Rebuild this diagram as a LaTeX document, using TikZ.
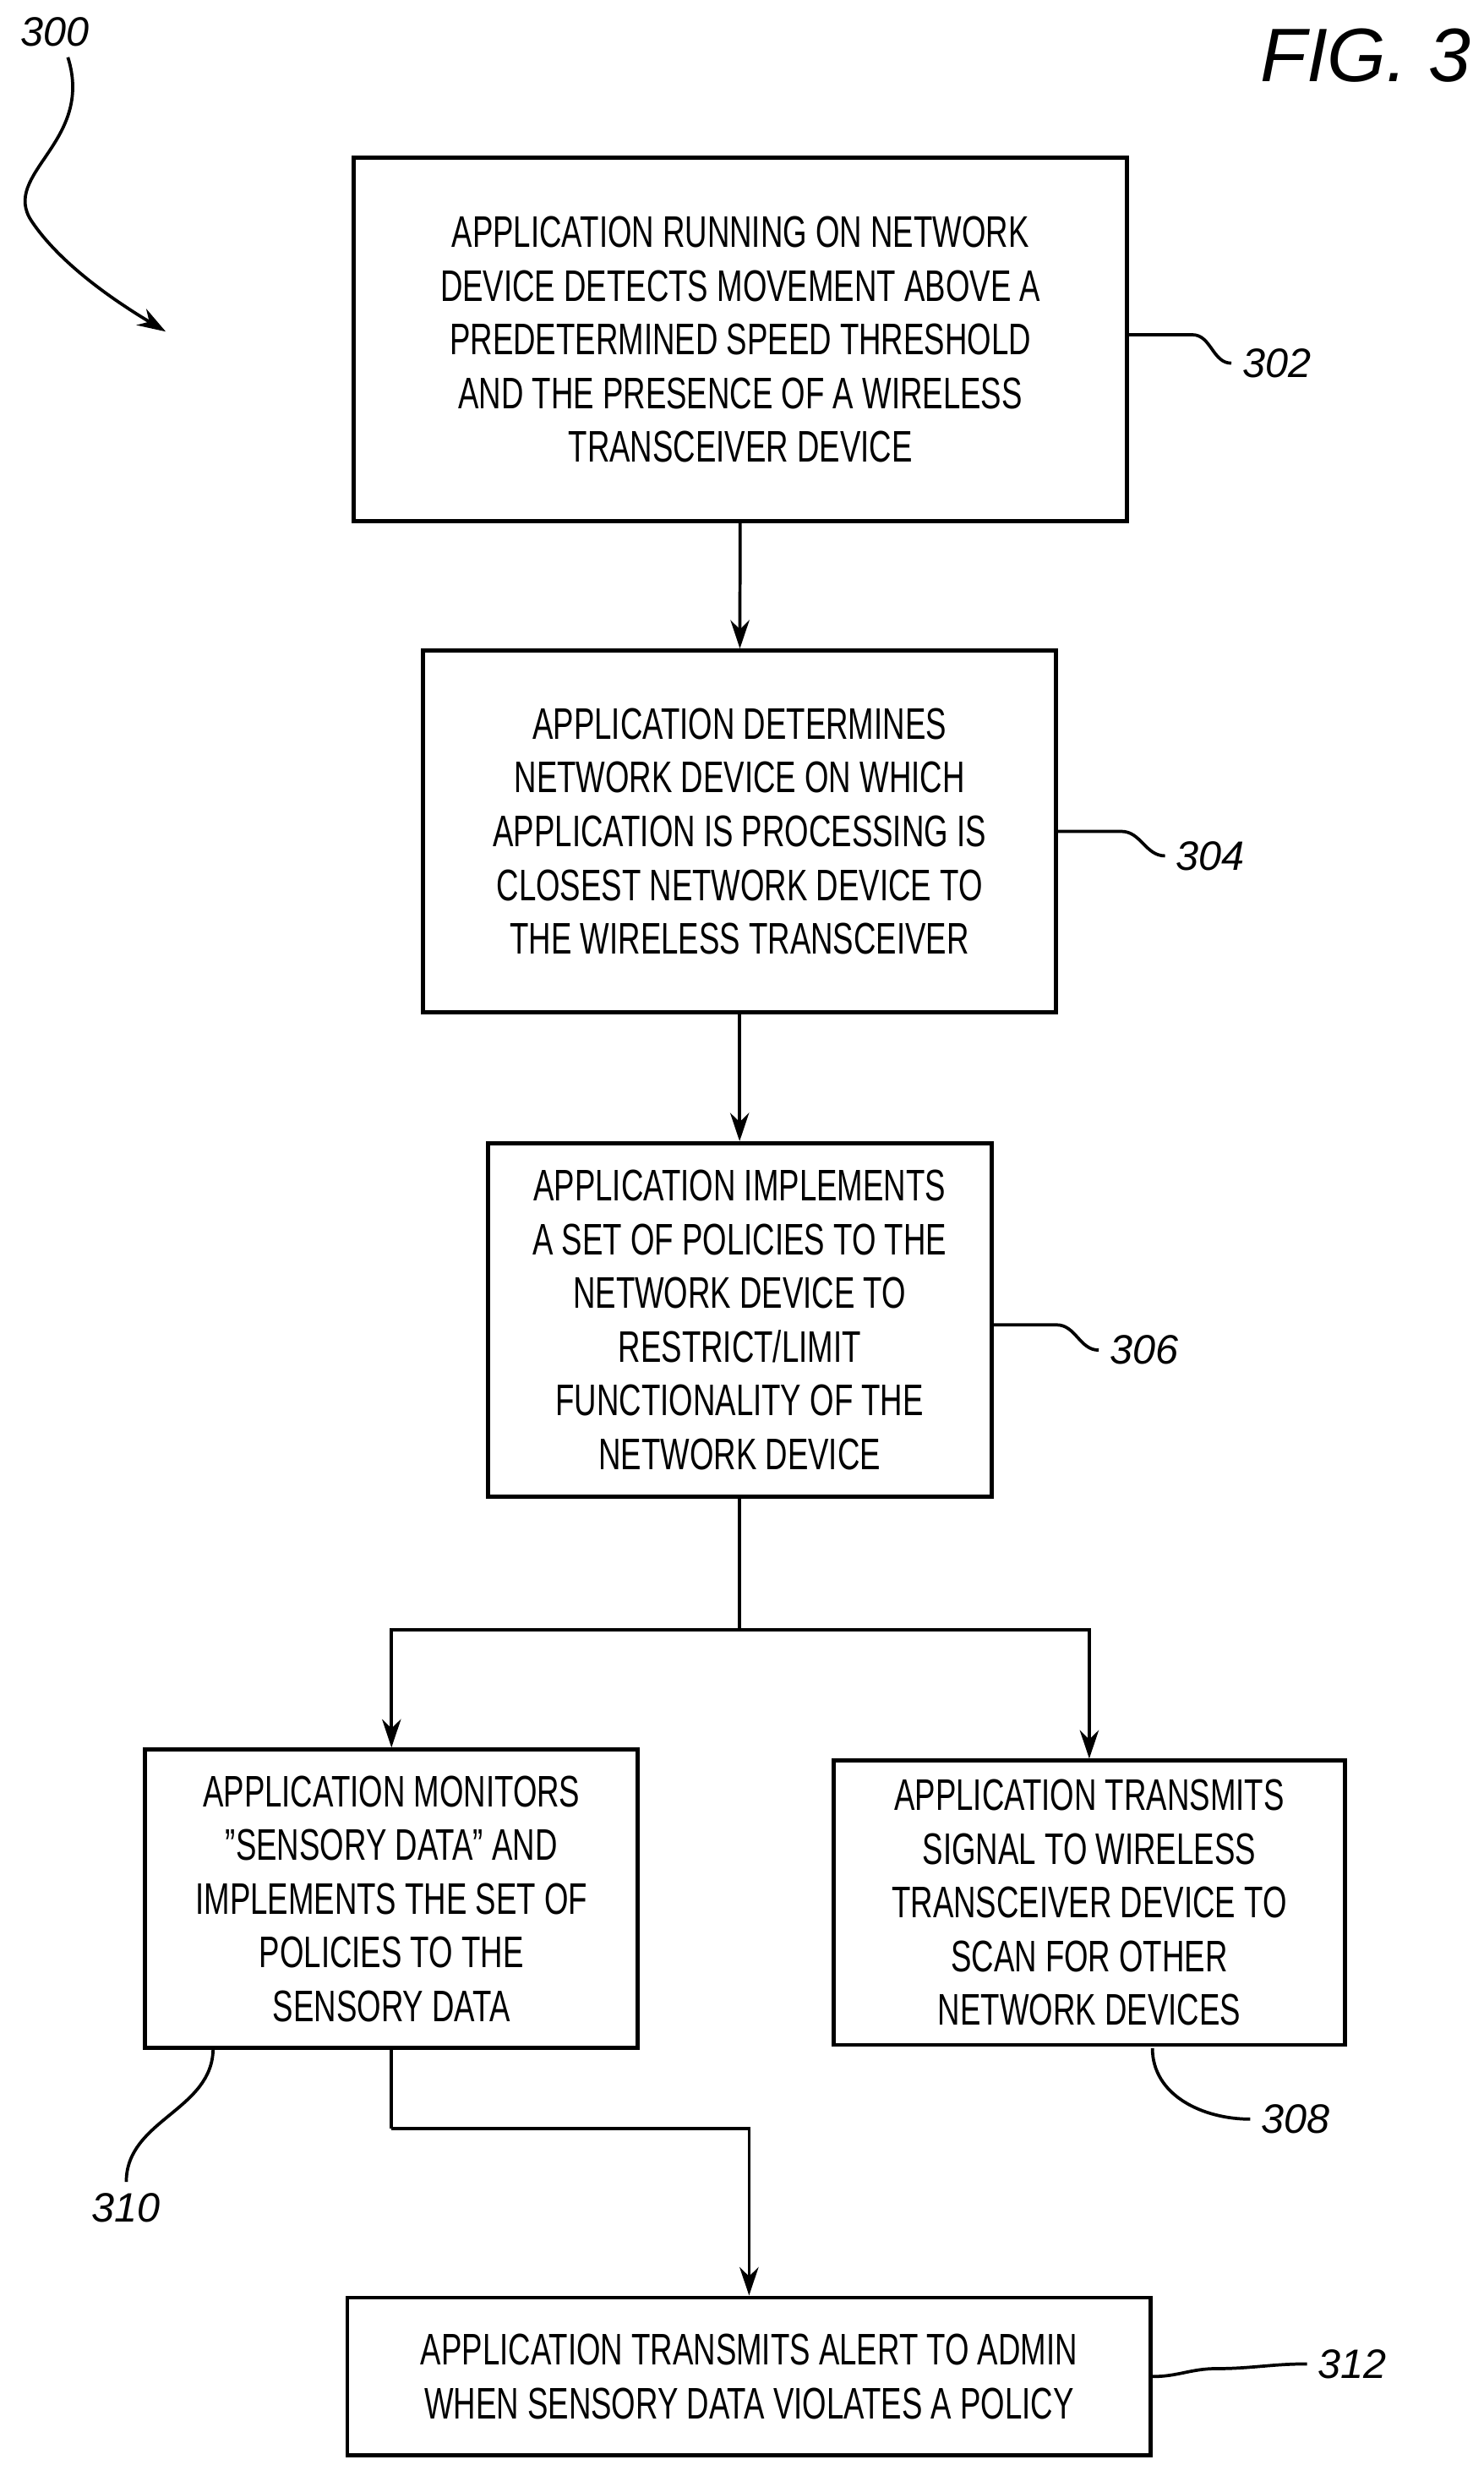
\documentclass[tikz,border=0pt]{standalone}
\usepackage{fontspec}
\setmainfont[FakeStretch=0.7]{Liberation Sans}
\newfontfamily\figfont{Liberation Sans}
\usetikzlibrary{arrows.meta}
\begin{document}
\begin{tikzpicture}[x=0.5pt,y=-0.5pt,font=\fontsize{14}{17}\selectfont,
  stepbox/.style={draw,line width=1.3pt,align=center,inner sep=0pt},
  flow/.style={line width=1pt,-{Stealth[length=9pt,width=6pt]}},
  lead/.style={line width=1pt},
  num/.style={font=\figfont\itshape\fontsize{13}{15}\selectfont}]
\useasboundingbox (0,0) rectangle (940,1568);

\node[stepbox,minimum width=245pt,minimum height=115pt] (s302) at (469,215) {APPLICATION RUNNING ON NETWORK\\DEVICE DETECTS MOVEMENT ABOVE A\\PREDETERMINED SPEED THRESHOLD\\AND THE PRESENCE OF A WIRELESS\\TRANSCEIVER DEVICE};
\node[stepbox,minimum width=200.5pt,minimum height=114.5pt] (s304) at (468.5,526.5) {APPLICATION DETERMINES\\NETWORK DEVICE ON WHICH\\APPLICATION IS PROCESSING IS\\CLOSEST NETWORK DEVICE TO\\THE WIRELESS TRANSCEIVER};
\node[stepbox,minimum width=159.5pt,minimum height=112pt] (s306) at (468.5,836) {APPLICATION IMPLEMENTS\\A SET OF POLICIES TO THE\\NETWORK DEVICE TO\\RESTRICT/LIMIT\\FUNCTIONALITY OF THE\\NETWORK DEVICE};
\node[stepbox,minimum width=156pt,minimum height=94.5pt] (s310) at (248,1202.5) {APPLICATION MONITORS\\"SENSORY DATA" AND\\IMPLEMENTS THE SET OF\\POLICIES TO THE\\SENSORY DATA};
\node[stepbox,minimum width=162pt,minimum height=90pt] (s308) at (690,1205) {APPLICATION TRANSMITS\\SIGNAL TO WIRELESS\\TRANSCEIVER DEVICE TO\\SCAN FOR OTHER\\NETWORK DEVICES};
\node[stepbox,minimum width=254.5pt,minimum height=50pt] (s312) at (474.5,1505) {APPLICATION TRANSMITS ALERT TO ADMIN\\WHEN SENSORY DATA VIOLATES A POLICY};

% connectors
\draw[flow] (s302) -- (s304);
\draw[flow] (s304) -- (s306);
\coordinate (split) at (468.5,1032);
\draw[lead] (s306) -- (split);
\draw[flow] (split) -| (s310);
\draw[flow] (split) -| (s308);
\coordinate (join) at (248,1348);
\draw[lead] (s310) -- (join);
\draw[flow] (join) -| (s312);

% reference numbers
\node[num,anchor=west] (n302) at (780,230) {302};
\node[num,anchor=west] (n304) at (738,542) {304};
\node[num,anchor=west] (n306) at (696,855) {306};
\node[num,anchor=west] (n308) at (792,1342) {308};
\node[num] (n310) at (80,1398) {310};
\node[num,anchor=west] (n312) at (828,1497) {312};
\node[num] (n300) at (35,20) {300};
\node[font=\figfont\itshape\fontsize{24}{28}\selectfont] (fig) at (865,35) {FIG. 3};

\draw[lead] (s302.east) ++(0,-3) to[out=0,in=180] ++(40,0) to[out=0,in=180] (n302.west);
\draw[lead] (s304.east) ++(0,0) to[out=0,in=180] ++(40,0) to[out=0,in=180] (n304.west);
\draw[lead] (s306.east) ++(0,3) to[out=0,in=180] ++(40,0) to[out=0,in=180] (n306.west);
\draw[lead] (730,1297) to[out=-90,in=180] (n308.west);
\draw[lead] (135,1297) to[out=-90,in=90] (n310.north);
\draw[lead] (s312.east) to[out=0,in=180] ++(40,-5) to[out=0,in=180] (n312.west);
\draw[lead,-{Stealth[length=9pt,width=6pt]}] (n300.south) ++(8,0) .. controls (60,90) and (0,110) .. (20,140) .. controls (40,170) and (80,195) .. (105,210);
\end{tikzpicture}
\end{document}
